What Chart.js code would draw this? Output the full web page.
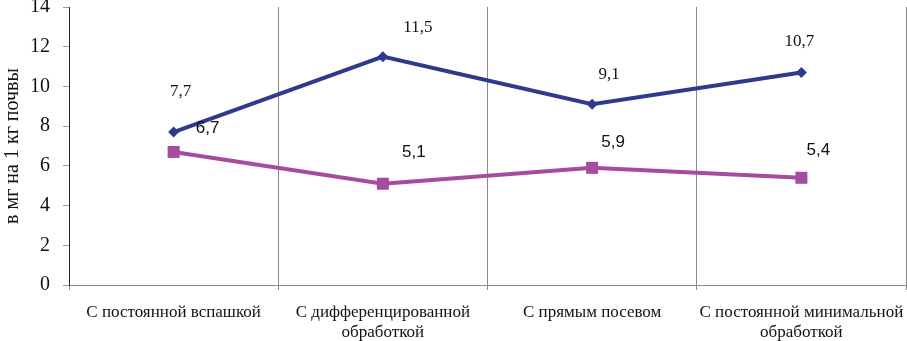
<!DOCTYPE html>
<html><head><meta charset="utf-8">
<script src="https://cdn.jsdelivr.net/npm/chart.js@4/dist/chart.umd.min.js"></script>
<style>html,body{margin:0;padding:0;background:#fff}#wrap{width:907px;height:341px;position:relative}</style>
</head><body><div id="wrap"><canvas id="c" width="907" height="341"></canvas></div>
<script>
const categories = [["С постоянной вспашкой"], ["С дифференцированной", "обработкой"], ["С прямым посевом"], ["С постоянной минимальной", "обработкой"]];
const series1Values = [7.7, 11.5, 9.1, 10.7];
const series2Values = [6.7, 5.1, 5.9, 5.4];
const yTicks = [0, 2, 4, 6, 8, 10, 12, 14];
const yTitle = "в мг на 1 кг почвы";

// label placement (pixel offsets from each point), kept apart from data
const series1LabelOffsets = [[7, -41], [35, -29], [17, -30], [-2, -31]];
const series2LabelOffsets = [[34, -24], [31, -31], [21, -26], [17, -27]];

const serif = "'Liberation Serif', 'Times New Roman', serif";
const sans = "'Liberation Sans', Arial, sans-serif";

const labelPlugin = {
  id: 'pointLabels',
  afterDatasetsDraw(chart) {
    const ctx = chart.ctx;
    chart.data.datasets.forEach((ds, i) => {
      const meta = chart.getDatasetMeta(i);
      meta.data.forEach((pt, j) => {
        const off = ds.labelOffsets[j];
        ctx.save();
        ctx.font = ds.labelFont;
        ctx.fillStyle = '#111';
        ctx.textAlign = 'center';
        ctx.textBaseline = 'middle';
        ctx.fillText(String(ds.data[j]).replace('.', ','), pt.x + off[0], pt.y + off[1]);
        ctx.restore();
      });
    });
  }
};

new Chart(document.getElementById('c'), {
  type: 'line',
  data: {
    labels: categories,
    datasets: [
      {
        data: series1Values,
        borderColor: '#2E3A8E',
        backgroundColor: '#2E3A8E',
        borderWidth: 4,
        pointStyle: 'rectRot',
        pointRadius: 5.5,
        pointBorderWidth: 0,
        labelOffsets: series1LabelOffsets,
        labelFont: "17px " + serif,
        tension: 0,
        clip: false
      },
      {
        data: series2Values,
        borderColor: '#A64B9F',
        backgroundColor: '#A64B9F',
        borderWidth: 4,
        pointStyle: 'rect',
        pointRadius: 8.5,
        pointBorderWidth: 0,
        labelOffsets: series2LabelOffsets,
        labelFont: "17px " + sans,
        tension: 0,
        clip: false
      }
    ]
  },
  options: {
    responsive: false,
    animation: false,
    devicePixelRatio: 1,
    layout: { autoPadding: false, padding: { top: 7, right: 1, left: 0, bottom: 0 } },
    plugins: { legend: { display: false }, tooltip: { enabled: false } },
    scales: {
      x: {
        type: 'category',
        offset: true,
        afterFit(s) { s.height = 56; s.paddingLeft = 0; s.paddingRight = 0; },
        grid: { display: true, offset: true, color: '#8a8a8a', lineWidth: 1, tickLength: 5, drawOnChartArea: true },
        border: { display: true, color: '#8a8a8a', width: 1 },
        ticks: { autoSkip: false, maxRotation: 0, minRotation: 0, padding: 13, color: '#111', font: { family: serif, size: 17, lineHeight: 1.15 } }
      },
      y: {
        min: 0, max: 14,
        afterFit(s) { s.width = 69; s.paddingTop = 0; s.paddingBottom = 0; },
        afterBuildTicks(s) { s.ticks = yTicks.map(v => ({ value: v })); },
        grid: { display: true, drawOnChartArea: false, color: '#999', tickLength: 6 },
        border: { display: true, color: '#222', width: 1 },
        ticks: { padding: 13, color: '#111', font: { family: serif, size: 20 } },
        title: { display: true, text: yTitle, color: '#111', padding: { top: 1, bottom: 0 }, font: { family: serif, size: 20 } }
      }
    }
  },
  plugins: [labelPlugin]
});
</script>
</body></html>
